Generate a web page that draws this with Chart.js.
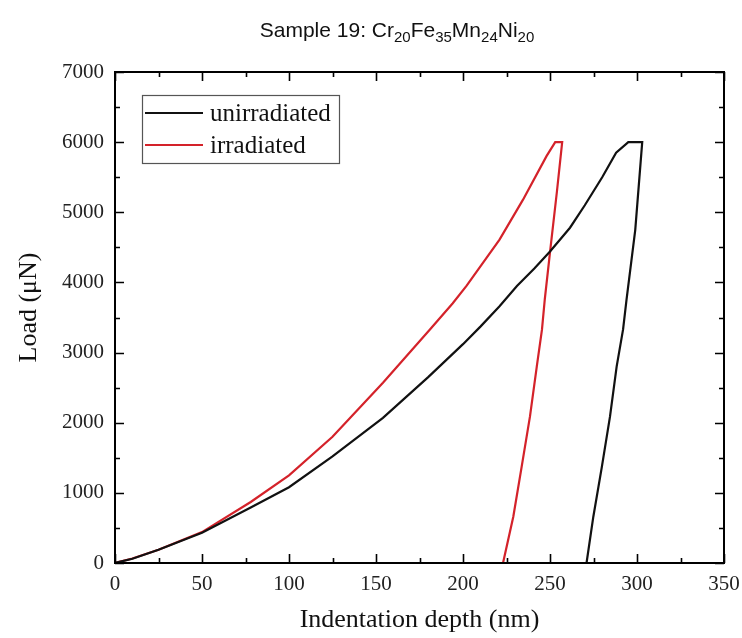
<!DOCTYPE html>
<html>
<head>
<meta charset="utf-8">
<script src="https://cdn.jsdelivr.net/npm/chart.js@4.4.1/dist/chart.umd.min.js"></script>
<style>
  html, body { margin: 0; padding: 0; background: #fff; }
  #wrap { width: 742px; height: 638px; position: relative; }
</style>
</head>
<body>
<div id="wrap"><canvas id="c" width="742" height="638"></canvas></div>
<script>
// Load–displacement curves (depth in nm, load in µN)
const unirrDepth = [0, 10, 25, 50, 78, 100, 125, 154, 180, 200, 210, 221, 231, 241, 250, 261.5, 270, 280, 288, 295, 303,
                    299, 294, 292, 288.3, 284.5, 279.8, 274.9, 271];
const unirrLoad  = [0, 60, 190, 430, 790, 1080, 1520, 2070, 2650, 3120, 3370, 3660, 3950, 4200, 4440, 4780, 5100, 5500, 5850, 6000, 6000,
                    4750, 3760, 3330, 2800, 2090, 1370, 660, 0];

const irrDepth = [0, 10, 25, 50, 78, 100, 125, 154, 181, 194, 202, 221, 234.5, 248, 253, 257,
                  254, 250, 247, 245.4, 242.4, 238.5, 233.7, 228.9, 223];
const irrLoad  = [0, 65, 190, 440, 870, 1250, 1800, 2570, 3330, 3700, 3950, 4610, 5180, 5800, 6000, 6000,
                  5300, 4430, 3760, 3330, 2800, 2090, 1370, 660, 0];

const seriesNames = ['unirradiated', 'irradiated'];
const xTicks = [0, 50, 100, 150, 200, 250, 300, 350];
const yTicks = [0, 1000, 2000, 3000, 4000, 5000, 6000, 7000];

const BLACK = '#111111';
const RED = '#d4222a';
const SERIF = '"Liberation Serif", "Times New Roman", serif';
const SANS = '"Liberation Sans", Arial, sans-serif';

const toPoints = (xs, ys) => xs.map((x, i) => ({ x: x, y: ys[i] }));

// Frame, inward ticks, titles and the boxed legend
const decorations = {
  id: 'decorations',
  afterDraw(chart) {
    const { ctx, chartArea: a, scales } = chart;
    const xs = scales.x, ys = scales.y;
    ctx.save();
    ctx.strokeStyle = '#000';
    ctx.lineWidth = 2;
    ctx.strokeRect(a.left, a.top, a.right - a.left, a.bottom - a.top);

    ctx.lineWidth = 1.6;
    ctx.beginPath();
    for (let v = 0; v <= 350; v += 25) {
      const len = (v % 50 === 0) ? 9 : 5;
      const px = Math.round(xs.getPixelForValue(v)) + 0.5;
      ctx.moveTo(px, a.bottom); ctx.lineTo(px, a.bottom - len);
      ctx.moveTo(px, a.top); ctx.lineTo(px, a.top + len);
    }
    for (let v = 0; v <= 7000; v += 500) {
      const len = (v % 1000 === 0) ? 9 : 5;
      const py = Math.round(ys.getPixelForValue(v)) + 0.5;
      ctx.moveTo(a.left, py); ctx.lineTo(a.left + len, py);
      ctx.moveTo(a.right, py); ctx.lineTo(a.right - len, py);
    }
    ctx.stroke();

    // axis titles
    ctx.fillStyle = '#111';
    ctx.font = '26px ' + SERIF;
    ctx.textAlign = 'center';
    ctx.textBaseline = 'alphabetic';
    ctx.fillText('Indentation depth (nm)', (a.left + a.right) / 2, 627);
    ctx.save();
    ctx.translate(36, (a.top + a.bottom) / 2 - 10);
    ctx.rotate(-Math.PI / 2);
    ctx.fillText('Load (\u03bcN)', 0, 0);
    ctx.restore();

    // chart title with subscripts
    const parts = [['Sample 19: Cr', false], ['20', true], ['Fe', false], ['35', true],
                   ['Mn', false], ['24', true], ['Ni', false], ['20', true]];
    const big = '21px ' + SANS, small = '15px ' + SANS;
    let total = 0;
    parts.forEach(([t, sub]) => { ctx.font = sub ? small : big; total += ctx.measureText(t).width; });
    let tx = 397 - total / 2;
    ctx.textAlign = 'left';
    parts.forEach(([t, sub]) => {
      ctx.font = sub ? small : big;
      ctx.fillText(t, tx, sub ? 42 : 37);
      tx += ctx.measureText(t).width;
    });

    // legend
    const lx = 142, ly = 95, lw = 197, lh = 68;
    ctx.fillStyle = '#fff';
    ctx.fillRect(lx, ly, lw, lh);
    ctx.strokeStyle = '#555';
    ctx.lineWidth = 1.2;
    ctx.strokeRect(lx + 0.5, ly + 0.5, lw, lh);
    const rows = [[seriesNames[0], BLACK, 113, 121], [seriesNames[1], RED, 145, 153]];
    ctx.font = '25px ' + SERIF;
    rows.forEach(([label, col, yl, yb]) => {
      ctx.strokeStyle = col;
      ctx.lineWidth = 2.2;
      ctx.beginPath();
      ctx.moveTo(145, yl); ctx.lineTo(203, yl);
      ctx.stroke();
      ctx.fillStyle = '#111';
      ctx.fillText(label, 210, yb);
    });
    ctx.restore();
  }
};

new Chart(document.getElementById('c'), {
  type: 'scatter',
  data: {
    datasets: [
      { label: seriesNames[0], data: toPoints(unirrDepth, unirrLoad), showLine: true,
        borderColor: BLACK, borderWidth: 2.2, pointRadius: 0, tension: 0, fill: false },
      { label: seriesNames[1], data: toPoints(irrDepth, irrLoad), showLine: true,
        borderColor: RED, borderWidth: 2.2, pointRadius: 0, tension: 0, fill: false }
    ]
  },
  options: {
    responsive: false,
    animation: false,
    devicePixelRatio: 1,
    layout: { padding: { top: 72, right: 18, left: 0, bottom: 0 } },
    plugins: { legend: { display: false }, tooltip: { enabled: false }, title: { display: false } },
    scales: {
      x: {
        type: 'linear', min: 0, max: 350,
        afterBuildTicks: s => { s.ticks = xTicks.map(v => ({ value: v })); },
        afterFit: s => { s.height = 75; s.paddingLeft = 0; s.paddingRight = 0; },
        grid: { display: false, drawTicks: false },
        border: { display: false },
        ticks: { color: '#222', font: { family: SERIF, size: 21 }, padding: 9, maxRotation: 0,
                 callback: v => String(v) }
      },
      y: {
        type: 'linear', min: 0, max: 7000,
        afterBuildTicks: s => { s.ticks = yTicks.map(v => ({ value: v })); },
        afterFit: s => { s.width = 115; s.paddingTop = 0; s.paddingBottom = 0; },
        grid: { display: false, drawTicks: false },
        border: { display: false },
        ticks: { color: '#222', font: { family: SERIF, size: 21 }, padding: 11,
                 callback: v => String(v) }
      }
    }
  },
  plugins: [decorations]
});
</script>
</body>
</html>
